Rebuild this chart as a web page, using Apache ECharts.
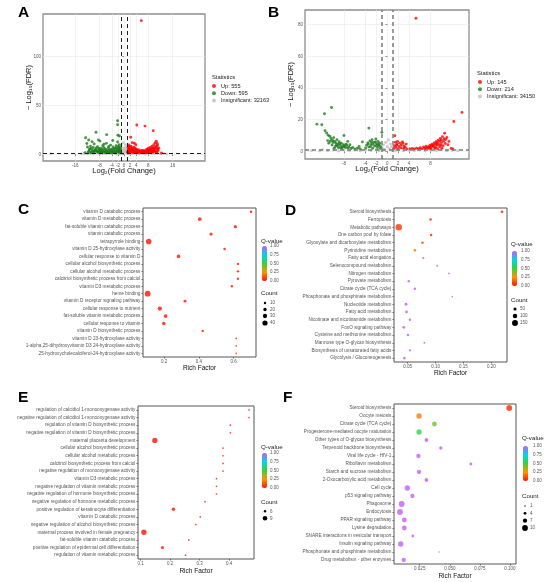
<!DOCTYPE html>
<html>
<head>
<meta charset="utf-8">
<script src="https://cdn.jsdelivr.net/npm/echarts@6.0.0/dist/echarts.min.js"></script>
<style>
html,body{margin:0;padding:0;background:#fff;}
#chart{width:550px;height:582px;}
</style>
</head>
<body>
<div id="chart"></div>
<script>
// ---------- panel A : volcano ----------
const aUp = [[5.7,137],[4.2,30],[6.9,28.9],[9.6,24.2],[2.2,17.4],[3.4,11.3],[12.3,1.3],
  [1.2,2.1],[1.3,3.5],[1.4,5.2],[1.5,7.8],[1.6,9.5],[1.7,2.8],[1.8,4.4],[1.9,6.1],[2.0,1.7],[2.1,3.2],
  [2.3,8.4],[2.4,5.0],[2.5,2.4],[2.6,6.8],[2.8,3.9],[2.9,1.9],[3.0,5.6],[3.2,2.8],[3.3,7.2],[3.5,4.1],
  [3.6,1.6],[3.8,3.0],[4.0,5.3],[4.2,2.2],[4.4,3.6],[4.6,1.8],[4.8,4.6],[5.0,2.7],[5.2,1.5],[5.4,3.4],
  [5.6,2.1],[5.8,4.0],[6.0,1.7],[6.2,2.9],[6.4,3.8],[6.6,2.2],[6.8,1.6],[7.0,3.1],[7.2,4.5],[7.4,2.4],
  [7.6,5.2],[7.8,3.3],[8.0,6.1],[8.2,2.6],[8.4,4.4],[8.6,7.0],[8.8,3.6],[9.0,5.4],[9.2,8.3],[9.4,2.9],
  [9.6,6.6],[9.8,9.7],[10.0,4.8],[10.2,11.5],[10.4,7.6],[10.6,13.4],[10.8,5.9],[11.0,9.2],[11.2,3.8],
  [10.5,2.2],[9.5,1.7],[8.5,1.9],[7.5,1.5],[3.9,9.8],[2.7,11.9],[1.4,1.6],[2.2,4.6],[3.1,2.1],[4.5,2.6],
  [5.5,2.4],[6.5,3.0],[7.7,2.0],[8.9,2.3],[9.9,3.2],[10.9,2.7],[11.4,6.4],
  [1.3,6.6],[1.7,8.1],[2.0,5.2],[2.4,3.0],[2.9,4.7],[3.4,1.9],[3.7,5.9],[4.1,1.5],[4.3,4.2],[4.9,3.2],
  [5.3,2.1],[5.9,2.6],[6.3,1.5],[6.9,2.5],[7.3,1.9],[7.9,4.4],[8.3,3.2],[8.7,4.9],[9.1,3.1],[9.3,6.0],
  [9.7,4.2],[10.1,6.8],[10.3,3.0],[10.7,8.4],[11.1,5.1],[10.9,11.0],[9.9,5.6]];
const aDown = [[-2.1,34.4],[-2.1,30.2],[-9.2,22.5],[-5.7,20.1],[-12.6,17],[-11.6,14.7],[-2.0,19.5],
  [-1.5,18.8],[-12.8,1.7],[-8.4,14.7],
  [-11.5,3.2],[-11.2,5.6],[-11.0,8.4],[-10.7,2.1],[-10.4,4.3],[-10.1,6.9],[-9.8,10.6],[-9.6,2.8],
  [-9.3,5.1],[-9.0,3.6],[-8.7,7.8],[-8.5,1.9],[-8.2,4.7],[-8.0,2.6],[-7.7,6.2],[-7.5,3.4],[-7.2,1.6],
  [-7.0,8.9],[-6.8,4.1],[-6.5,2.3],[-6.3,5.7],[-6.0,3.0],[-5.8,11.2],[-5.6,1.8],[-5.4,4.4],[-5.1,6.6],
  [-4.9,2.5],[-4.7,3.7],[-4.4,9.4],[-4.2,1.7],[-4.0,5.3],[-3.8,2.9],[-3.6,7.4],[-3.4,4.0],[-3.2,1.9],
  [-3.0,6.1],[-2.8,3.2],[-2.6,8.7],[-2.4,2.2],[-2.3,4.9],[-2.1,12.6],[-1.9,3.5],[-1.8,6.8],[-1.6,1.8],
  [-1.5,9.9],[-1.4,4.2],[-1.3,2.6],[-1.2,7.3],[-1.1,5.5],[-10.5,12.8],[-7.9,13.5],[-6.6,10.2],
  [-3.7,14.1],[-12.0,7.5],[-12.2,11.0],[-11.8,2.2],[-10.9,1.6],[-9.9,2.4],[-8.8,3.0],[-7.9,1.8],
  [-6.9,2.7],[-5.9,2.0],[-4.6,1.6],[-3.5,2.4],[-2.7,1.6],[-1.7,2.9],
  [-11.4,4.6],[-10.8,6.0],[-10.2,3.1],[-9.5,4.2],[-9.1,6.4],[-8.6,2.7],[-8.3,5.9],[-7.8,3.9],
  [-7.4,5.1],[-7.1,2.4],[-6.7,6.9],[-6.2,1.7],[-5.9,4.8],[-5.3,2.9],[-5.0,8.0],[-4.5,5.0],[-4.1,3.4],
  [-3.7,1.6],[-3.3,5.2],[-2.9,2.4],[-2.5,6.4],[-2.2,3.9],[-1.9,8.2],[-1.6,5.6],[-1.3,3.9],[-1.1,1.8]];
const aNs = [[-24,0.5],[-14,0.3],[-13,0.6],[-12,0.2],[-11,0.9],[-10,0.4],[-9,1.1],[-8,0.2],[-7,0.7],
  [-6,0.3],[-5,1.0],[-4,0.5],[-3,0.8],[-2.5,0.2],[-2,1.2],[-1.5,0.6],[-1,0.3],[-0.8,2.4],[-0.6,4.8],
  [-0.4,1.5],[-0.2,6.3],[0,3.1],[0.2,5.4],[0.4,2.0],[0.6,7.1],[0.8,3.9],[1,0.5],[1.5,1.1],[2,0.3],
  [2.5,0.9],[3,0.4],[4,1.2],[5,0.2],[6,0.8],[7,0.3],[8,1.0],[9,0.5],[10,0.2],[11,0.7],[12,0.4],
  [13,0.9],[14,0.3],[-0.9,8.7],[0.5,9.8],[-0.3,11.5],[0.9,1.8],[-0.7,0.9]];
const aXTicks = [-16, -8, -4, -2, 0, 2, 4, 8, 16];
const aYTicks = [0, 50, 100];
const aNames = ['Up: 555', 'Down: 595', 'Insignificant: 32163'];

// ---------- panel B : volcano ----------
const bUp = [[5.3,84],[13.8,24.6],[12.3,18.9],[1.4,9.9],
  [1.2,1.8],[1.3,3.6],[1.5,5.8],[1.6,2.5],[1.8,4.7],[1.9,6.3],[2.0,1.6],[2.2,3.1],[2.3,5.2],[2.5,2.2],
  [2.6,4.0],[2.8,6.0],[3.0,1.9],[3.1,3.4],[3.3,2.6],[3.5,4.6],[3.6,1.5],[4.2,1.6],[4.6,1.8],[5.0,1.5],
  [5.4,2.0],[5.8,1.7],[6.1,2.3],[6.4,1.6],[6.7,2.8],[7.0,2.0],[7.2,3.3],[7.5,1.8],[7.7,2.6],[7.9,3.9],
  [8.1,2.2],[8.3,4.6],[8.5,3.1],[8.7,5.3],[8.9,2.5],[9.0,6.1],[9.2,3.8],[9.4,7.0],[9.6,4.4],[9.8,8.1],
  [10.0,5.5],[10.2,9.3],[10.4,6.4],[10.6,11.4],[10.8,7.5],[11.0,8.8],[11.4,6.3],[10.1,2.0],[9.3,1.7],
  [11.8,1.9],[12.1,1.6],[8.0,1.6],[8.8,2.0],[9.7,2.9],[10.3,3.6],[9.1,4.9],[8.4,3.5],
  [6.9,1.6],[7.4,2.4],[7.8,3.0],[8.2,3.6],[8.6,4.1],[9.0,4.4],[9.3,5.6],[9.7,6.5],[10.0,7.2],
  [10.5,8.0],[9.9,3.9],[10.7,5.0],[11.2,4.2],[1.7,3.9],[2.9,5.1]];
const bDown = [[-10.3,27.7],[-11.6,23.7],[-13,17.2],[-12.1,16.8],[-3.4,14.7],[-1.0,12],[-8,10],
  [-11.5,13],[-11.2,11.6],[-10.9,10.2],[-10.6,9.5],[-10.4,8.1],[-10.1,7.0],[-9.9,8.7],[-9.7,6.2],
  [-9.5,5.3],[-9.3,7.4],[-9.1,4.6],[-8.9,6.1],[-8.7,3.8],[-8.5,5.2],[-8.3,2.9],[-8.1,4.3],[-7.9,3.4],
  [-7.7,2.4],[-7.5,3.9],[-7.3,2.1],[-7.1,2.8],[-6.9,4.2],[-6.7,1.8],[-6.4,2.5],[-6.0,1.6],[-5.5,2.0],
  [-5.0,1.5],[-10.8,5.2],[-10.2,4.0],[-9.6,3.1],[-9.0,2.3],[-8.4,1.8],[-11.0,6.8],[-9.8,2.0],[-7.3,6.3],
  [-4.0,2.1],[-3.8,3.9],[-3.6,5.4],[-3.4,2.7],[-3.2,6.6],[-3.0,4.2],[-2.8,7.3],[-2.7,2.0],[-2.5,5.7],
  [-2.3,3.3],[-2.1,7.8],[-2.0,4.8],[-1.8,2.5],[-1.7,6.2],[-1.5,3.7],[-1.4,5.1],[-1.3,1.9],[-1.2,3.0],
  [-4.6,6.0],[-5.2,3.1],
  [-10.0,5.6],[-9.4,4.1],[-8.8,4.9],[-8.6,2.4],[-8.0,3.0],[-7.6,4.6],[-9.2,3.4],[-10.5,6.4],
  [-3.5,4.6],[-3.1,3.0],[-2.6,4.4],[-2.2,5.9],[-1.9,3.8],[-1.6,4.4],[-2.9,5.6]];
const bNs = [[-14,0.5],[-12,1.0],[-11,0.3],[-10,0.8],[-9,0.2],[-8,1.1],[-7,0.4],[-6,0.9],[-5,0.3],
  [-4,1.0],[-3,0.5],[-2,1.2],[-1.5,0.4],[-0.9,2.2],[-0.7,4.1],[-0.5,1.3],[-0.3,5.6],[0,2.9],[0.2,7.2],
  [0.4,1.7],[0.6,4.6],[0.8,3.0],[1.5,0.6],[2,1.1],[3,0.3],[4,0.9],[5,0.4],[6,1.0],[7,0.2],[8,0.8],
  [9,0.5],[10,1.1],[11,0.3],[12,0.7],[-0.8,0.9],[0.9,0.5],[-12.5,0.2],[13,0.4]];
const bXTicks = [-8, -4, -2, 0, 2, 4, 8];
const bYTicks = [0, 20, 40, 60, 80];
const bNames = ['Up: 145', 'Down: 214', 'Insignificant: 34150'];

// ---------- panel C : GO enrichment ----------
const cTerms = ['vitamin D catabolic process', 'vitamin D metabolic process',
  'fat-soluble vitamin catabolic process', 'vitamin catabolic process', 'tetrapyrrole binding',
  'vitamin D 25-hydroxylase activity', 'cellular response to vitamin D',
  'cellular alcohol biosynthetic process', 'cellular alcohol metabolic process',
  'calcitriol biosynthetic process from calciol', 'vitamin D3 metabolic process', 'heme binding',
  'vitamin D receptor signaling pathway', 'cellular response to nutrient',
  'fat-soluble vitamin metabolic process', 'cellular response to vitamin',
  'vitamin D biosynthetic process', 'vitamin D 23-hydroxylase activity',
  '1-alpha,25-dihydroxyvitamin D3 24-hydroxylase activity',
  '25-hydroxycholecalciferol-24-hydroxylase activity'];
const cRich = [0.70, 0.405, 0.61, 0.47, 0.111, 0.548, 0.283, 0.625, 0.625, 0.625, 0.59, 0.105,
  0.32, 0.175, 0.208, 0.198, 0.422, 0.615, 0.615, 0.615];
const cCount = [13, 23, 19, 19, 44, 12, 23, 10, 10, 10, 10, 46, 16, 30, 24, 23, 10, 3, 3, 3];
const cQ = [0, 0, 0, 0, 0, 0, 0, 0, 0, 0, 0, 0, 0, 0, 0, 0, 0, 0, 0, 0];
const cXTicks = [0.2, 0.4, 0.6];
const cSizeBreaks = [10, 20, 30, 40];

// ---------- panel D : KEGG enrichment ----------
const dTerms = ['Steroid biosynthesis', 'Ferroptosis', 'Metabolic pathways', 'One carbon pool by folate',
  'Glyoxylate and dicarboxylate metabolism', 'Pyrimidine metabolism', 'Fatty acid elongation',
  'Selenocompound metabolism', 'Nitrogen metabolism', 'Pyruvate metabolism', 'Citrate cycle (TCA cycle)',
  'Phosphonate and phosphinate metabolism', 'Nucleotide metabolism', 'Fatty acid metabolism',
  'Nicotinate and nicotinamide metabolism', 'FoxO signaling pathway', 'Cysteine and methionine metabolism',
  'Mannose type O-glycan biosynthesis', 'Biosynthesis of unsaturated fatty acids',
  'Glycolysis / Gluconeogenesis'];
const dRich = [0.219, 0.091, 0.034, 0.092, 0.0766, 0.063, 0.078, 0.103, 0.124, 0.052, 0.063, 0.13,
  0.047, 0.048, 0.054, 0.043, 0.0505, 0.080, 0.054, 0.044];
const dCount = [30, 30, 170, 28, 30, 32, 18, 10, 3, 30, 30, 1, 40, 40, 30, 40, 32, 10, 20, 32];
const dQ = [0.0, 0.02, 0.07, 0.03, 0.08, 0.18, 1, 1, 1, 1, 1, 1, 1, 1, 1, 1, 1, 1, 1, 1];
const dXTicks = [0.05, 0.10, 0.15, 0.20];
const dSizeBreaks = [50, 100, 150];

// ---------- panel E : GO enrichment ----------
const eTerms = ['regulation of calcidiol 1-monooxygenase activity',
  'negative regulation of calcidiol 1-monooxygenase activity',
  'regulation of vitamin D biosynthetic process', 'negative regulation of vitamin D biosynthetic process',
  'maternal placenta development', 'cellular alcohol biosynthetic process',
  'cellular alcohol metabolic process', 'calcitriol biosynthetic process from calciol',
  'negative regulation of monooxygenase activity', 'vitamin D3 metabolic process',
  'negative regulation of vitamin metabolic process', 'negative regulation of hormone biosynthetic process',
  'negative regulation of hormone metabolic process', 'positive regulation of keratinocyte differentiation',
  'vitamin D catabolic process', 'negative regulation of alcohol biosynthetic process',
  'maternal process involved in female pregnancy', 'fat-soluble vitamin catabolic process',
  'positive regulation of epidermal cell differentiation', 'regulation of vitamin metabolic process'];
const eRich = [0.467, 0.467, 0.404, 0.404, 0.148, 0.379, 0.379, 0.379, 0.379, 0.357, 0.357, 0.357,
  0.318, 0.211, 0.302, 0.287, 0.111, 0.263, 0.174, 0.252];
const eCount = [5, 5, 5, 5, 10, 5, 5, 5, 5, 5, 5, 5, 5, 7.5, 5, 5, 10, 5, 7, 5];
const eQ = [0, 0, 0, 0, 0, 0, 0, 0, 0, 0, 0, 0, 0, 0, 0, 0, 0, 0, 0, 0];
const eXTicks = [0.1, 0.2, 0.3, 0.4];
const eSizeBreaks = [6, 9];

// ---------- panel F : KEGG enrichment ----------
const fTerms = ['Steroid biosynthesis', 'Oocyte meiosis', 'Citrate cycle (TCA cycle)',
  'Progesterone-mediated oocyte maturation', 'Other types of O-glycan biosynthesis',
  'Terpenoid backbone biosynthesis', 'Viral life cycle - HIV-1', 'Riboflavin metabolism',
  'Starch and sucrose metabolism', '2-Oxocarboxylic acid metabolism', 'Cell cycle',
  'p53 signaling pathway', 'Phagosome', 'Endocytosis', 'PPAR signaling pathway', 'Lysine degradation',
  'SNARE interactions in vesicular transport', 'Insulin signaling pathway',
  'Phosphonate and phosphinate metabolism', 'Drug metabolism - other enzymes'];
const fRich = [0.0994, 0.0244, 0.0372, 0.0244, 0.0306, 0.0425, 0.0239, 0.0675, 0.0244, 0.0306,
  0.0147, 0.0189, 0.0100, 0.0086, 0.0122, 0.0122, 0.0192, 0.0092, 0.0411, 0.0117];
const fCount = [10, 9, 8, 9, 6, 5, 7, 4, 7, 6, 9, 7, 10, 10, 8, 8, 4, 9, 1, 7];
const fQ = [0.04, 0.2, 0.42, 0.53, 1, 1, 1, 1, 1, 1, 1, 1, 1, 1, 1, 1, 1, 1, 1, 1];
const fXTicks = [0.025, 0.050, 0.075, 0.100];
const fSizeBreaks = [1, 4, 7, 10];

const qTicks = [1, 0.75, 0.5, 0.25, 0];

// ---------- styles ----------
const FONT = 'Liberation Sans, Arial, sans-serif';
const qColors = ['#ff1300', '#ff9400', '#35d435', '#00d6e6', '#c45cf5'];
const cSize = {c0: 3, c1: 46, d0: 1.7, d1: 5.8};
const dSize = {c0: 1, c1: 170, d0: 1.7, d1: 6.5};
const eSize = {c0: 5, c1: 10, d0: 1.7, d1: 5.3};
const fSize = {c0: 1, c1: 10, d0: 1.3, d1: 5.8};

function dotSize(c, s) {
  return s.d0 + (s.d1 - s.d0) * (c - s.c0) / (s.c1 - s.c0);
}

const grids = [
  {left: 43, top: 14, width: 162, height: 147},   // A
  {left: 305, top: 10, width: 164, height: 149},  // B
  {left: 143, top: 208, width: 113, height: 149}, // C
  {left: 394, top: 208, width: 113, height: 154}, // D
  {left: 138, top: 406, width: 116, height: 153}, // E
  {left: 394, top: 404, width: 122, height: 160}  // F
].map((g, i) => Object.assign(g, {
  show: true, backgroundColor: '#fff', outerBoundsMode: 'none', containLabel: false,
  borderColor: i < 2 ? '#8f8f8f' : '#555', borderWidth: i < 2 ? 1.3 : 1
}));

function volcanoX(idx, min, max, ticks) {
  return {
    gridIndex: idx, type: 'value', min: min, max: max,
    name: 'Log\u2082(Fold Change)', nameLocation: 'middle', nameGap: 5.5, nameMoveOverlap: false,
    nameTextStyle: {fontSize: 7.5, color: '#111', fontFamily: FONT},
    axisLine: {show: false},
    axisTick: {show: true, customValues: ticks, length: 1.8, lineStyle: {color: '#444', width: 0.6}},
    axisLabel: {customValues: ticks, fontSize: 4.5, color: '#555', margin: 2, fontFamily: FONT},
    splitLine: {show: true, lineStyle: {color: '#e9e9e9', width: 0.6}}
  };
}
function volcanoY(idx, min, max, ticks) {
  return {
    gridIndex: idx, type: 'value', min: min, max: max,
    name: '\u2212 Log\u2081\u2080(FDR)', nameLocation: 'middle', nameGap: 10.5, nameMoveOverlap: false,
    nameTextStyle: {fontSize: 7.5, color: '#111', fontFamily: FONT},
    axisLine: {show: false},
    axisTick: {show: true, customValues: ticks, length: 1.8, lineStyle: {color: '#444', width: 0.6}},
    axisLabel: {customValues: ticks, fontSize: 4.5, color: '#555', margin: 2, fontFamily: FONT},
    splitLine: {show: true, lineStyle: {color: '#e9e9e9', width: 0.6}}
  };
}
function richX(idx, min, max, ticks, digits, gap) {
  return {
    gridIndex: idx, type: 'value', min: min, max: max,
    name: 'Rich Factor', nameLocation: 'middle', nameGap: gap, nameMoveOverlap: false,
    nameTextStyle: {fontSize: 6.5, color: '#111', fontFamily: FONT},
    axisLine: {show: false},
    axisTick: {show: true, customValues: ticks, length: 1.6, lineStyle: {color: '#333', width: 0.6}},
    axisLabel: {customValues: ticks, fontSize: 4.5, color: '#555', margin: 2, fontFamily: FONT,
      formatter: v => Number(v).toFixed(digits)},
    splitLine: {show: false}
  };
}
function termY(idx, terms) {
  return {
    gridIndex: idx, type: 'category', data: terms, inverse: true,
    axisLine: {show: false},
    axisTick: {show: true, alignWithLabel: true, interval: 0, length: 1.6,
      lineStyle: {color: '#333', width: 0.6}},
    axisLabel: {interval: 0, fontSize: 4.7, color: '#555', margin: 2.6, fontFamily: FONT},
    splitLine: {show: false}
  };
}

function volcanoSeries(idx, up, down, ns, names, lineColor, lineWidth) {
  const base = {type: 'scatter', xAxisIndex: idx, yAxisIndex: idx, symbolSize: 2.9, silent: true};
  return [
    Object.assign({}, base, {
      name: names[2], data: ns, itemStyle: {color: '#bdbdbd'}, z: 2,
      markLine: {
        silent: true, symbol: ['none', 'none'], label: {show: false}, animation: false,
        lineStyle: {type: [4, 3], color: lineColor, width: lineWidth},
        data: [{xAxis: -1}, {xAxis: 1}, {yAxis: -Math.log10(0.05)}]
      }
    }),
    Object.assign({}, base, {name: names[1], data: down, itemStyle: {color: '#1a7d1a'}, z: 3}),
    Object.assign({}, base, {name: names[0], data: up, itemStyle: {color: '#ff0000'}, z: 4})
  ];
}

function bubbleSeries(idx, terms, rich, count, q, sz) {
  return {
    type: 'scatter', xAxisIndex: idx, yAxisIndex: idx, silent: true, z: 3,
    data: terms.map((t, i) => [rich[i], t, q[i], count[i]]),
    symbolSize: v => dotSize(v[3], sz)
  };
}

const series = [].concat(
  volcanoSeries(0, aUp, aDown, aNs, aNames, '#1e1e1e', 1),
  volcanoSeries(1, bUp, bDown, bNs, bNames, '#7a7a7a', 1.5),
  [bubbleSeries(2, cTerms, cRich, cCount, cQ, cSize),
   bubbleSeries(3, dTerms, dRich, dCount, dQ, dSize),
   bubbleSeries(4, eTerms, eRich, eCount, eQ, eSize),
   bubbleSeries(5, fTerms, fRich, fCount, fQ, fSize)]
);

// legend boxes (layout only)
const qBoxes = [
  {series: 6, title: [261, 241], bar: [262, 246], labelX: 270},
  {series: 7, title: [511, 244], bar: [512, 251], labelX: 521},
  {series: 8, title: [261, 447], bar: [262, 453], labelX: 270},
  {series: 9, title: [522, 438], bar: [523, 446], labelX: 533}
];
const barH = 35;
const countBoxes = [
  {title: [261, 293], x: 265, ys: [303, 309.5, 316, 323], breaks: cSizeBreaks, sz: cSize},
  {title: [511, 300], x: 515, ys: [309, 316, 323], breaks: dSizeBreaks, sz: dSize},
  {title: [261, 502], x: 265, ys: [511.3, 518.3], breaks: eSizeBreaks, sz: eSize},
  {title: [522, 496], x: 525, ys: [506, 513.3, 520.7, 528], breaks: fSizeBreaks, sz: fSize}
];

const visualMap = qBoxes.map(b => ({
  type: 'continuous', seriesIndex: b.series, dimension: 2, min: 0, max: 1,
  inRange: {color: qColors}, calculable: false, hoverLink: false, realtime: false,
  left: b.bar[0], top: b.bar[1], itemWidth: 5, itemHeight: barH, padding: 0,
  text: null, orient: 'vertical'
}));

function txt(s, x, y, size, opts) {
  return {type: 'text', x: x, y: y, silent: true, z: 100,
    style: Object.assign({text: s, fontSize: size, fontFamily: FONT, fill: '#222',
      align: 'left', verticalAlign: 'middle'}, opts || {})};
}

const graphics = [];
[['A', 18, 5], ['B', 268, 5], ['C', 18, 202], ['D', 285, 203], ['E', 18, 390], ['F', 283, 390]]
  .forEach(l => graphics.push(txt(l[0], l[1], l[2], 15.5,
    {fontWeight: 'bold', fill: '#000', verticalAlign: 'top'})));
graphics.push(txt('Statistics', 212, 77, 5.8));
graphics.push(txt('Statistics', 477, 73, 5.8));
qBoxes.forEach(b => {
  graphics.push(txt('Q-value', b.title[0], b.title[1], 6.2));
  qTicks.forEach(v => graphics.push(txt(v.toFixed(2), b.labelX, b.bar[1] + barH * (1 - v), 4.5,
    {fill: '#555'})));
});
countBoxes.forEach(b => {
  graphics.push(txt('Count', b.title[0], b.title[1], 6.2));
  b.breaks.forEach((c, i) => {
    graphics.push({type: 'circle', silent: true, z: 100,
      shape: {cx: b.x, cy: b.ys[i], r: dotSize(c, b.sz) / 2}, style: {fill: '#000'}});
    graphics.push(txt(String(c), b.x + 5, b.ys[i], 4.5, {fill: '#555'}));
  });
});

function volcanoLegend(names, left, top) {
  return {
    data: names, orient: 'vertical', left: left, top: top, padding: 0,
    itemWidth: 4, itemHeight: 4, itemGap: 1.2, icon: 'circle', selectedMode: false,
    textStyle: {fontSize: 5.6, color: '#222', fontFamily: FONT}
  };
}

const chart = echarts.init(document.getElementById('chart'), null, {renderer: 'canvas'});
chart.setOption({
  animation: false,
  backgroundColor: '#fff',
  textStyle: {fontFamily: FONT},
  grid: grids,
  xAxis: [
    volcanoX(0, -26.6, 26.6, aXTicks),
    volcanoX(1, -15.2, 15.1, bXTicks),
    richX(2, 0.078, 0.729, cXTicks, 1, 7.5),
    richX(3, 0.0255, 0.228, dXTicks, 2, 7.3),
    richX(4, 0.091, 0.484, eXTicks, 1, 8.5),
    richX(5, 0.0036, 0.105, fXTicks, 3, 8.5)
  ],
  yAxis: [
    volcanoY(0, -6.9, 143.8, aYTicks),
    volcanoY(1, -4.8, 89.2, bYTicks),
    termY(2, cTerms),
    termY(3, dTerms),
    termY(4, eTerms),
    termY(5, fTerms)
  ],
  legend: [volcanoLegend(aNames, 212, 83), volcanoLegend(bNames, 478, 79)],
  visualMap: visualMap,
  series: series,
  graphic: {elements: graphics}
});
</script>
</body>
</html>
